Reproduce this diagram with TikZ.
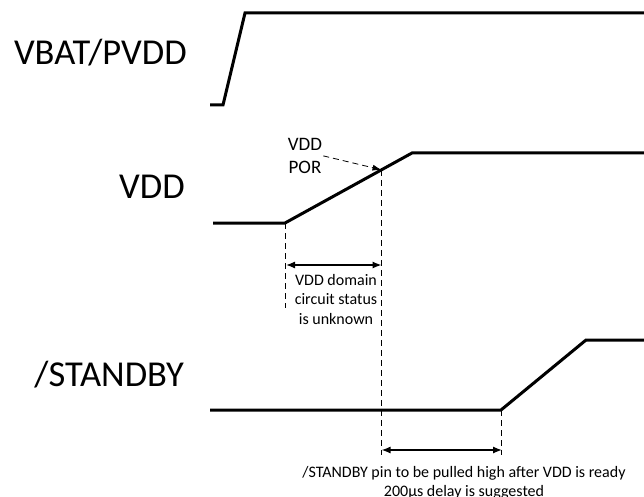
\documentclass[tikz,border=0pt]{standalone}
\usepackage{fontspec}
\setmainfont{Carlito}
\usetikzlibrary{arrows.meta,calc}

\begin{document}
\begin{tikzpicture}[
  x=1pt, y=-1pt,
  sig/.style={line width=3pt, line join=miter},
  guide/.style={line width=0.8pt, dash pattern=on 6pt off 4pt},
  span/.style={{Latex[length=9pt,width=7pt]}-{Latex[length=9pt,width=7pt]}, line width=1.3pt},
  lbl/.style={font=\fontsize{36.5}{40}\selectfont, anchor=base east, inner sep=0pt},
  note/.style={font=\fontsize{16}{19.5}\selectfont, align=center, inner sep=0pt, anchor=north}
]
\useasboundingbox (0,0) rectangle (644,497);

% signal names
\node[lbl] (vbatlbl) at (187,65) {VBAT/PVDD};
\node[lbl] (vddlbl) at (185,198) {VDD};
\node[lbl] (stbylbl) at (184,386) {/STANDBY};

% VBAT/PVDD
\coordinate (b0) at (210,105);
\coordinate (b1) at (223,105);
\coordinate (b2) at (245,13);
\coordinate (b3) at (644,13);
\draw[sig] (b0) -- (b1) -- (b2) -- (b3);

% VDD
\coordinate (v0) at (213,223);
\coordinate (v1) at (285,223);
\coordinate (v2) at (412,153);
\coordinate (v3) at (644,153);
\draw[sig] (v0) -- (v1) -- (v2) -- (v3);
\coordinate (por) at ($(v1)!0.76!(v2)$);

% /STANDBY
\coordinate (s0) at (210,410);
\coordinate (s1) at (501,410);
\coordinate (s2) at (586,340);
\coordinate (s3) at (644,340);
\draw[sig] (s0) -- (s1) -- (s2) -- (s3);

% POR marker
\node[font=\fontsize{19}{23}\selectfont, align=center, inner sep=1pt, anchor=north] (porlbl) at (305,137) {VDD\\POR};
\draw[guide, -{Latex[length=9pt,width=6pt]}] (porlbl.east) -- (por);

% guide lines
\coordinate (g1) at (285,308);
\coordinate (g2) at (por |- 0,455);
\coordinate (g3) at (501,455);
\draw[guide] (v1) -- (g1);
\draw[guide] (por) -- (g2);
\draw[guide] (s1) -- (g3);

% spans
\coordinate (a1) at (286,265);
\coordinate (a2) at (por |- a1);
\draw[span] (a1) -- (a2);
\coordinate (a3) at (por |- 0,450);
\coordinate (a4) at (502,450);
\draw[span] (a3) -- (a4);

\node[note] (unknown) at (336,274) {VDD domain\\circuit status\\is unknown};
\node[note] (delay) at (464,466) {/STANDBY pin to be pulled high after VDD is ready\\200µs delay is suggested};
\end{tikzpicture}
\end{document}
